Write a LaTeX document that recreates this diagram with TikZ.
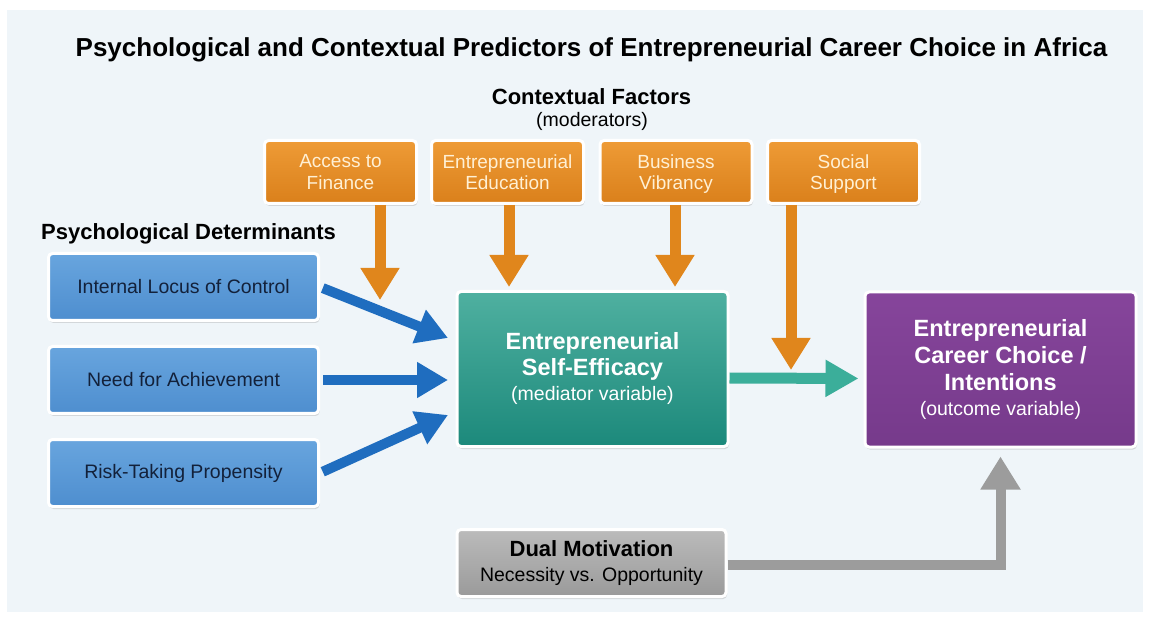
\documentclass[tikz,border=0pt]{standalone}
\usepackage{fontspec}
\setmainfont{Liberation Sans}
\usetikzlibrary{arrows.meta,shadows}
\def\nodepth#1{\raisebox{0pt}[\height][0pt]{#1}}
\definecolor{panelbg}{HTML}{EFF5F9}
\definecolor{psyA}{HTML}{68A5DE}
\definecolor{psyB}{HTML}{4E8ECF}
\definecolor{psytxt}{HTML}{13213A}
\definecolor{psyarrow}{HTML}{1F6DBF}
\definecolor{ctxA}{HTML}{EE9B36}
\definecolor{ctxB}{HTML}{DA801B}
\definecolor{ctxtxt}{HTML}{FFF0D4}
\definecolor{ctxarrow}{HTML}{E0861C}
\definecolor{eseA}{HTML}{4FB0A0}
\definecolor{eseB}{HTML}{1C897B}
\definecolor{esearrow}{HTML}{3BAE9A}
\definecolor{eccA}{HTML}{86459B}
\definecolor{eccB}{HTML}{763A8B}
\definecolor{dualA}{HTML}{BBBBBB}
\definecolor{dualB}{HTML}{9A9A9A}
\definecolor{dualarrow}{HTML}{9C9C9C}
\tikzset{
  box/.style={rounded corners=4pt, draw=white, line width=3pt, align=center, inner sep=2pt,
    drop shadow={shadow xshift=1pt, shadow yshift=-2.5pt, opacity=0.25}},
  psybox/.style={box, minimum width=270pt, minimum height=67pt, top color=psyA, bottom color=psyB,
    text=psytxt, font=\fontsize{19.5}{24}\selectfont},
  ctxbox/.style={box, minimum width=152pt, minimum height=63pt, top color=ctxA, bottom color=ctxB,
    text=ctxtxt, font=\fontsize{19}{21.5}\selectfont},
  bigbox/.style={box, minimum width=271pt, minimum height=155pt, text=white,
    font=\fontsize{23.5}{26}\selectfont\bfseries},
  head/.style={inner sep=0pt, text=black},
  psyarr/.style={draw=psyarrow, line width=10pt, -{Triangle[width=34pt,length=31pt]}},
  ctxarr/.style={draw=ctxarrow, line width=11pt, -{Triangle[width=37pt,length=32pt]}},
}
\begin{document}
\begin{tikzpicture}[x=1pt,y=-1pt]
%%%%% START %%%%%
\useasboundingbox (0,0) rectangle (1162,617);
\fill[white] (0,0) rectangle (1162,617);
\fill[panelbg] (7,10) rectangle (1143,612);

\node[head, anchor=base, font=\fontsize{26}{30}\selectfont\bfseries] (title) at (591.5,56.5)
  {Psychological and Contextual Predictors of Entrepreneurial Career Choice in Africa};
\node[head, anchor=base, font=\fontsize{22}{26}\selectfont\bfseries] (ctxhead) at (591.5,104.5) {Contextual Factors};
\node[head, anchor=base, font=\fontsize{19.5}{24}\selectfont] (ctxsub) at (592,127) {(moderators)};
\node[head, anchor=base west, font=\fontsize{22}{26}\selectfont\bfseries] (psyhead) at (41,240) {Psychological Determinants};

% psychological determinants
\node[psybox] (locus) at (183.5,287) {Internal Locus of Control};
\node[psybox] (need) at (183.5,380) {Need for Achievement};
\node[psybox] (risk) at (183.5,473) {Risk-Taking Propensity};

% contextual factors
\node[ctxbox] (finance) at (340.5,172) {Access to\\Finance};
\node[ctxbox] (educ) at (507.5,172) {Entrepreneurial\\Education};
\node[ctxbox] (vibr) at (676,172) {Business\\\nodepth{Vibrancy}};
\node[ctxbox] (social) at (843.5,172) {Social\\\nodepth{Support}};

% mediator and outcome
\node[bigbox, top color=eseA, bottom color=eseB] (ese) at (592.5,369)
  {Entrepreneurial\\Self-Efficacy\\[-1pt]{\fontsize{19.5}{24}\selectfont\mdseries(mediator variable)}};
\node[bigbox, top color=eccA, bottom color=eccB] (ecc) at (1000.5,369.5)
  {Entrepreneurial\\[1pt]Career Choice /\\[1pt]Intentions\\[-1pt]{\fontsize{19.5}{24}\selectfont\mdseries(outcome variable)}};
\node[box, minimum width=269pt, minimum height=67pt, top color=dualA, bottom color=dualB,
  text=black, font=\fontsize{19.5}{25}\selectfont] (dual) at (591.5,563)
  {{\fontsize{22}{25}\selectfont\bfseries Dual Motivation}\\Necessity vs. Opportunity};

\coordinate (in1) at (448,338);
\coordinate (in2) at (448,380);
\coordinate (in3) at (448,415);
\coordinate (finend) at (380,300);
\coordinate (socend) at (791,370);

% connectors
\draw[psyarr, shorten <=3pt] (locus.east) -- (in1);
\draw[psyarr, shorten <=3pt] (need.east) -- (in2);
\draw[psyarr, shorten <=3pt] (risk.east) -- (in3);

\draw[ctxarr] (finance.south -| finend) -- (finend);
\draw[ctxarr, shorten >=3pt] ([xshift=1.5pt]educ.south) -- ([xshift=1.5pt]educ.south |- ese.north);
\draw[ctxarr, shorten >=3pt] ([xshift=-1pt]vibr.south) -- ([xshift=-1pt]vibr.south |- ese.north);

\draw[draw=esearrow, line width=11pt, -{Triangle[width=35pt,length=33pt]}, shorten >=5pt]
  ([yshift=-9pt]ese.east) -- ([yshift=-9pt]ecc.west);
\draw[ctxarr] (social.south -| socend) -- (socend);

\draw[draw=dualarrow, line width=10pt, line join=miter, -{Triangle[width=38pt,length=33pt]}, shorten >=8pt]
  ([yshift=-2pt]dual.east) -| (ecc.south);
%%%%% END %%%%%
\end{tikzpicture}
\end{document}
